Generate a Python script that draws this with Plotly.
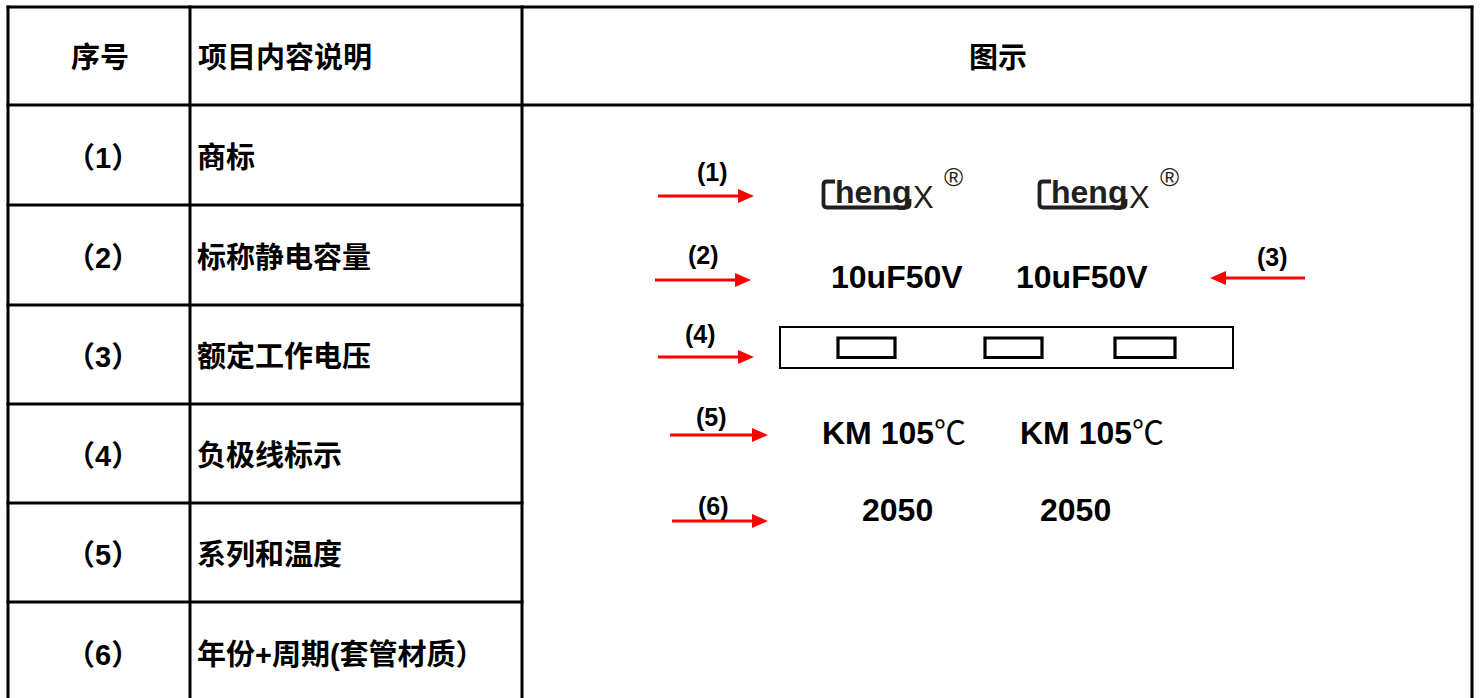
import plotly.graph_objects as go

# ---- content ----
header = ["序号", "项目内容说明", "图示"]
row_ids = ["（1）", "（2）", "（3）", "（4）", "（5）", "（6）"]
items = ["商标", "标称静电容量", "额定工作电压", "负极线标示", "系列和温度", "年份+周期(套管材质）"]
arrow_labels = ["(1)", "(2)", "(3)", "(4)", "(5)", "(6)"]
brand_main = "heng"
brand_tail = "X"
rating = "10uF50V"
series_txt = "KM 105"
temp_unit = "℃"
date_code = "2050"

W, H = 1481, 698
BLACK = "#000000"
RED = "#ff0000"
LOGO = "#231f20"
CJK = "Liberation Sans, Arial, Noto Sans CJK SC, sans-serif"
LAT = "Liberation Sans, Arial, sans-serif"

fig = go.Figure()
shapes = []
ann = []

def line(x0, y0, x1, y1, w=3, c=BLACK):
    shapes.append(dict(type="line", x0=x0, y0=y0, x1=x1, y1=y1, xref="x", yref="y",
                       line=dict(color=c, width=w)))

def text(x, y, s, size, bold=True, anchor="center", fam=CJK, color=BLACK):
    ann.append(dict(x=x, y=y, xref="x", yref="y", text=(f"<b>{s}</b>" if bold else s),
                    showarrow=False, xanchor=anchor, yanchor="middle",
                    font=dict(family=fam, size=size, color=color)))

# ---- table grid ----
col_x = [8, 190, 522, 1472]
row_y = [7, 105, 205, 305, 404, 503, 602]
line(col_x[0] - 1.5, row_y[0], col_x[-1] + 1.5, row_y[0])
line(col_x[0] - 1.5, row_y[1], col_x[-1] + 1.5, row_y[1])
for yy in row_y[2:]:
    line(col_x[0] - 1.5, yy, col_x[2] + 1.5, yy)
for xx in col_x:
    line(xx, row_y[0] - 1.5, xx, H + 2)

# ---- header and left columns ----
CJK_SIZE = 29
text(100, 58, header[0], CJK_SIZE)
text(196, 58, header[1], CJK_SIZE, anchor="left")
text(998, 58, header[2], CJK_SIZE)
row_cy = [158, 258, 357, 456, 555, 655]
for cy, rid, it in zip(row_cy, row_ids, items):
    text(103, cy, rid, CJK_SIZE)
    text(195, cy, it, CJK_SIZE, anchor="left")

# ---- arrows ----
def arrow(x0, x1, y, w=3, hl=16, hh=7):
    d = 1 if x1 > x0 else -1
    line(x0, y, x1 - d * hl, y, w=w, c=RED)
    shapes.append(dict(type="path", xref="x", yref="y",
                       path=f"M {x1} {y} L {x1 - d*hl} {y - hh} L {x1 - d*hl} {y + hh} Z",
                       fillcolor=RED, line=dict(color=RED, width=0)))

arrow_geo = [(658, 754, 196), (655, 751, 280), (1305, 1210, 278),
             (658, 754, 357), (670, 768, 435), (672, 768, 521)]
label_pos = [(712, 172), (703, 255), (1272, 257), (700, 334), (711, 417), (713, 506)]
for (x0, x1, y), (lx, ly), lab in zip(arrow_geo, label_pos, arrow_labels):
    arrow(x0, x1, y)
    text(lx, ly, lab, 25, fam=LAT)

# ---- brand logos ----
def logo(x0):
    shapes.append(dict(type="path", xref="x", yref="y",
                       path=(f"M {x0+13} {181.5} L {x0+5} {181.5} Q {x0+1.5} {181.5} {x0+1.5} {185} "
                             f"L {x0+1.5} {204} Q {x0+1.5} {207.5} {x0+5} {207.5} "
                             f"L {x0+84} {207.5} Q {x0+87.5} {207.5} {x0+87.5} {204} L {x0+87.5} {199}"),
                       line=dict(color=LOGO, width=3.8)))
    text(x0 + 11, 192, brand_main, 32, anchor="left", fam=LAT, color=LOGO)
    text(x0 + 101, 197, brand_tail, 31, bold=False, fam=LAT, color=LOGO)
    text(x0 + 131, 177, "®", 26, bold=False, fam=LAT, color=LOGO)

logo(822)
logo(1038)

# ---- markings ----
MS = 32
for cx in (897, 1082):
    text(cx, 277, rating, MS, fam=LAT)
for cx in (894, 1092):
    ann.append(dict(x=cx, y=433, xref="x", yref="y", showarrow=False,
                    text=f"<b>{series_txt}</b>{temp_unit}", xanchor="center", yanchor="middle",
                    font=dict(family="Liberation Sans, Arial, Noto Sans CJK SC", size=MS, color=BLACK)))
for cx in (897, 1075):
    text(cx, 510, date_code, MS, fam=LAT)

# ---- negative stripe ----
shapes.append(dict(type="rect", xref="x", yref="y", x0=780, x1=1233, y0=327, y1=368,
                   line=dict(color=BLACK, width=2)))
for a, b in [(838, 895), (985, 1042), (1115, 1175)]:
    shapes.append(dict(type="rect", xref="x", yref="y", x0=a, x1=b, y0=338, y1=357.5,
                       line=dict(color=BLACK, width=3.2)))

fig.update_layout(
    width=W, height=H, margin=dict(l=0, r=0, t=0, b=0),
    paper_bgcolor="white", plot_bgcolor="white", showlegend=False,
    xaxis=dict(range=[0, W], visible=False, fixedrange=True),
    yaxis=dict(range=[H, 0], visible=False, fixedrange=True),
    shapes=shapes, annotations=ann,
)
fig.write_html("out.html", config={"displayModeBar": False},
               post_script="document.body.style.margin='0';document.body.style.overflow='hidden';")
